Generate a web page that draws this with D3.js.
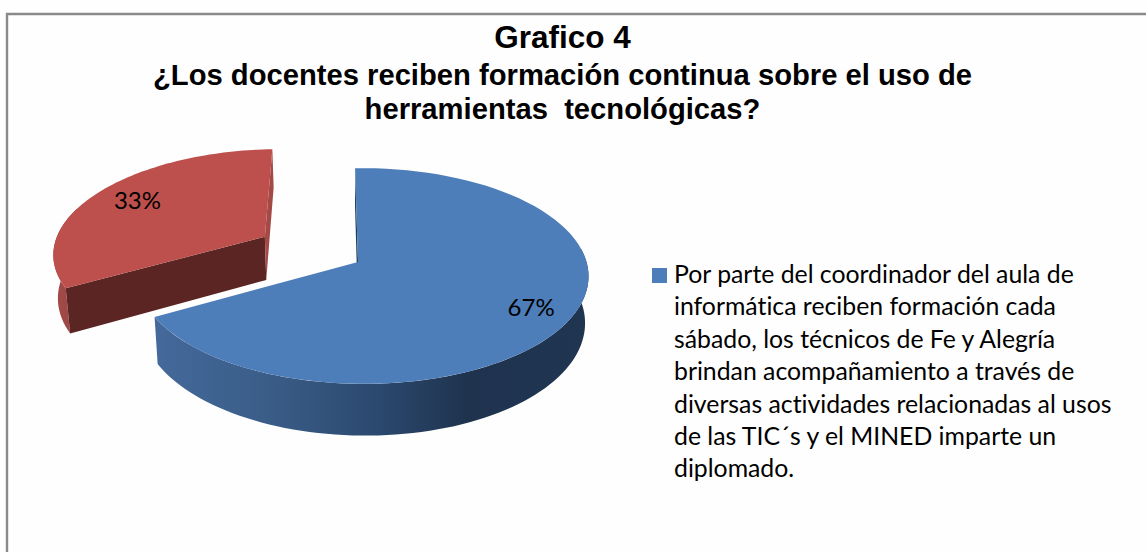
<!DOCTYPE html>
<html><head><meta charset="utf-8">
<script src="https://cdnjs.cloudflare.com/ajax/libs/d3/7.8.5/d3.min.js"></script>
<style>html,body{margin:0;padding:0;background:#fefefe}svg{display:block}text{font-variant-ligatures:none}</style>
</head><body><div id="c"></div>
<script>
const categories = ["Por parte del coordinador del aula de informática reciben formación cada sábado, los técnicos de Fe y Alegría brindan acompañamiento a través de diversas actividades relacionadas al usos de las TIC´s y el MINED imparte un diplomado.", "Otro"];
const values = [67, 33];
const valueLabels = ["67%", "33%"];
const titleLines = ["Grafico 4", "¿Los docentes reciben formación continua sobre el uso de", "herramientas  tecnológicas?"];
const legendLines = ["Por parte del coordinador del aula de","informática reciben formación cada","sábado, los técnicos de Fe y Alegría","brindan acompañamiento a través de","diversas actividades relacionadas al usos","de las TIC´s y el MINED imparte un","diplomado."];

const W=1146,H=552;
const svg=d3.select("#c").append("svg").attr("width",W).attr("height",H);
const defs=svg.append("defs");
const g1=defs.append("linearGradient").attr("id","blueWall").attr("gradientUnits","userSpaceOnUse").attr("x1",158).attr("x2",587).attr("y1",0).attr("y2",0);
[[0,"#44699a"],[0.25,"#3a5d88"],[0.5,"#2c4a70"],[0.72,"#1f334f"],[1,"#1f3550"]].forEach(s=>g1.append("stop").attr("offset",s[0]).attr("stop-color",s[1]));
const g2=defs.append("linearGradient").attr("id","redWall").attr("gradientUnits","userSpaceOnUse").attr("x1",50).attr("x2",75).attr("y1",0).attr("y2",0);
[[0,"#a34b48"],[1,"#9c4745"]].forEach(s=>g2.append("stop").attr("offset",s[0]).attr("stop-color",s[1]));

svg.append("path").attr("d",`M7,${H} V14 H${W}`).attr("fill","none").attr("stroke","#8a8a8a").attr("stroke-width",2.4);

const ax=358, ay=262, Rx=223.5, Ry=106, q=0.13, r=-0.022, depth=45, sc=0.985, explode=0.5;
function proj(u,v,bottom){
  const w=1-q*v+r*u;
  let x=Rx*u/w, y=Ry*v/w;
  if(bottom){x*=sc; y+=depth/w;}
  return [ax+x, ay+y];
}
const pie=d3.pie().sort(null).value(d=>d).startAngle(-0.015);
const arcs=pie(values);
const line=d3.line();
function pt(a,off,rad,bottom){return proj(off[0]+rad*Math.sin(a),off[1]-rad*Math.cos(a),bottom);}
function arcPts(a0,a1,off,bottom){
  return d3.range(0,81).map(i=>pt(a0+(a1-a0)*i/80,off,1,bottom));
}
const offs=arcs.map((d,i)=>{
  if(i===0) return [0,0];
  const m=(d.startAngle+d.endAngle)/2;
  return [explode*Math.sin(m),-explode*Math.cos(m)];
});
const colors=["#4e7eb9","#bd4f4c"];
const layer=svg.append("g");

{
  const d=arcs[1],o=offs[1];
  const c=pt(0,o,0,false),cb=pt(0,o,0,true);
  const aVis=1.6*Math.PI;
  const wall=arcPts(d.startAngle,aVis,o,false).concat(arcPts(d.startAngle,aVis,o,true).reverse());
  layer.append("path").attr("d",line(wall)+"Z").attr("fill","url(#redWall)");
  layer.append("path").attr("d",line([c,pt(d.startAngle,o,1,false),pt(d.startAngle,o,1,true),cb])+"Z").attr("fill","#5b2523");
  layer.append("path").attr("d",line([c,pt(d.endAngle,o,1,false),pt(d.endAngle,o,1,true),cb])+"Z").attr("fill","#a34a47");
  layer.append("path").attr("d",line([c].concat(arcPts(d.startAngle,d.endAngle,o,false)))+"Z").attr("fill",colors[1]);
}
{
  const d=arcs[0],o=offs[0];
  const c=pt(0,o,0,false),cb=pt(0,o,0,true);
  layer.append("path").attr("d",line([c,pt(d.startAngle,o,1,false),pt(d.startAngle,o,1,true),cb])+"Z").attr("fill","#1c3a5a");
  const a0=Math.PI*0.46;
  const wall=arcPts(a0,d.endAngle,o,false).concat(arcPts(a0,d.endAngle,o,true).reverse());
  layer.append("path").attr("d",line(wall)+"Z").attr("fill","url(#blueWall)");
  layer.append("path").attr("d",line([c].concat(arcPts(d.startAngle,d.endAngle,o,false)))+"Z").attr("fill",colors[0]);
}
const labelFont="Lato, Carlito, sans-serif";
valueLabels.forEach((t,i)=>{
  const p=proj(i===0?0.72:-1.09,i===0?0.42:-0.62,false);
  svg.append("text").attr("x",p[0]).attr("y",p[1]).attr("text-anchor","middle").attr("dominant-baseline","middle")
    .attr("font-family",labelFont).attr("font-size",24).attr("fill","#000").text(t);
});
const titleSizes=[31.5,29.2,29.2], titleY=[48,85,119];
titleLines.forEach((t,i)=>svg.append("text").attr("x",562.5).attr("y",titleY[i]).attr("text-anchor","middle")
  .attr("font-family","'Liberation Sans',Arial,sans-serif").attr("font-weight","bold").attr("font-size",titleSizes[i])
  .style("white-space","pre").attr("fill","#000").text(t));
svg.append("rect").attr("x",652).attr("y",268).attr("width",15).attr("height",15).attr("fill",colors[0]);
legendLines.forEach((t,i)=>svg.append("text").attr("x",674).attr("y",283+i*32.4)
  .attr("font-family",labelFont).attr("font-size",24.8).attr("fill","#000").text(t));
</script></body></html>
